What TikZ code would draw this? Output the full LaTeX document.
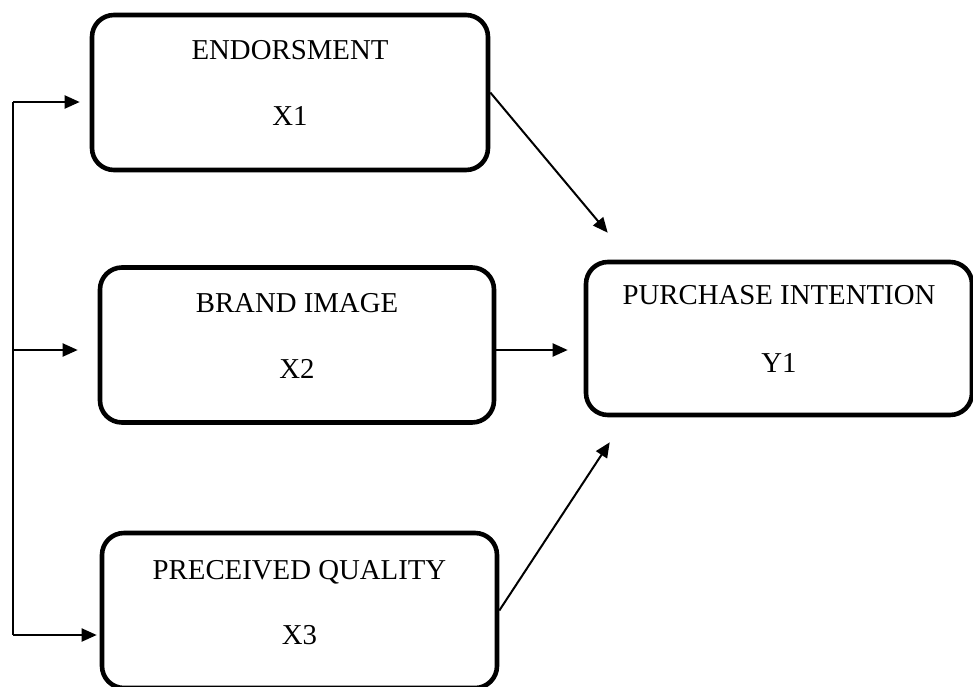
\documentclass[tikz,border=0pt]{standalone}
\usepackage{fontspec}
\setmainfont{Liberation Serif}
\usetikzlibrary{arrows.meta,calc}
\begin{document}
\begin{tikzpicture}[x=0.5pt,y=-0.5pt,
  box/.style={draw, line width=2.3pt, rounded corners=11pt, inner sep=0pt},
  lbl/.style={font=\fontsize{14.4}{17}\selectfont, anchor=base, inner sep=0pt},
  conn/.style={line width=1pt, -{Triangle[length=7.5pt,width=6.5pt]}},
  plain/.style={line width=1pt}]
\useasboundingbox (0,0) rectangle (973,686);
% boxes
\node[box, minimum width=198pt, minimum height=77.5pt] (b1) at (290,92.5) {};
\node[box, minimum width=197pt, minimum height=77.5pt] (b2) at (297,345) {};
\node[box, minimum width=197.5pt, minimum height=77.5pt] (b3) at (299.5,610.5) {};
\node[box, minimum width=193pt, minimum height=76.5pt] (p) at (779,338.5) {};
% labels
\node[lbl] (t1) at ($(b1.north)+(0,47)$) {ENDORSMENT};
\node[lbl] (x1) at ($(b1.north)+(0,113)$) {X1};
\node[lbl] (t2) at ($(b2.north)+(0,47)$) {BRAND IMAGE};
\node[lbl] (x2) at ($(b2.north)+(0,113)$) {X2};
\node[lbl] (t3) at ($(b3.north)+(0,49)$) {PRECEIVED QUALITY};
\node[lbl] (x3) at ($(b3.north)+(0,114)$) {X3};
\node[lbl] (tp) at ($(p.north)+(0,45)$) {PURCHASE INTENTION};
\node[lbl] (yp) at ($(p.north)+(0,113)$) {Y1};
% left bracket
\coordinate (top) at (13,102);
\coordinate (mid) at (13,350);
\coordinate (bot) at (13,635);
\draw[plain] (top) -- (bot);
\draw[conn, shorten >=5pt] (top) -- (top -| b1.west);
\draw[conn, shorten >=10pt] (mid) -- (mid -| b2.west);
\draw[conn, shorten >=1.5pt] (bot) -- (bot -| b3.west);
% to purchase intention
\coordinate (a2) at ($(b2.east)+(0,5)$);
\draw[conn] (b1.east) -- ($(p.north west)+(24,-27)$);
\draw[conn, shorten >=8pt] (a2) -- (a2 -| p.west);
\draw[conn] (b3.east) -- ($(p.south west)+(26,25)$);
\end{tikzpicture}
\end{document}
